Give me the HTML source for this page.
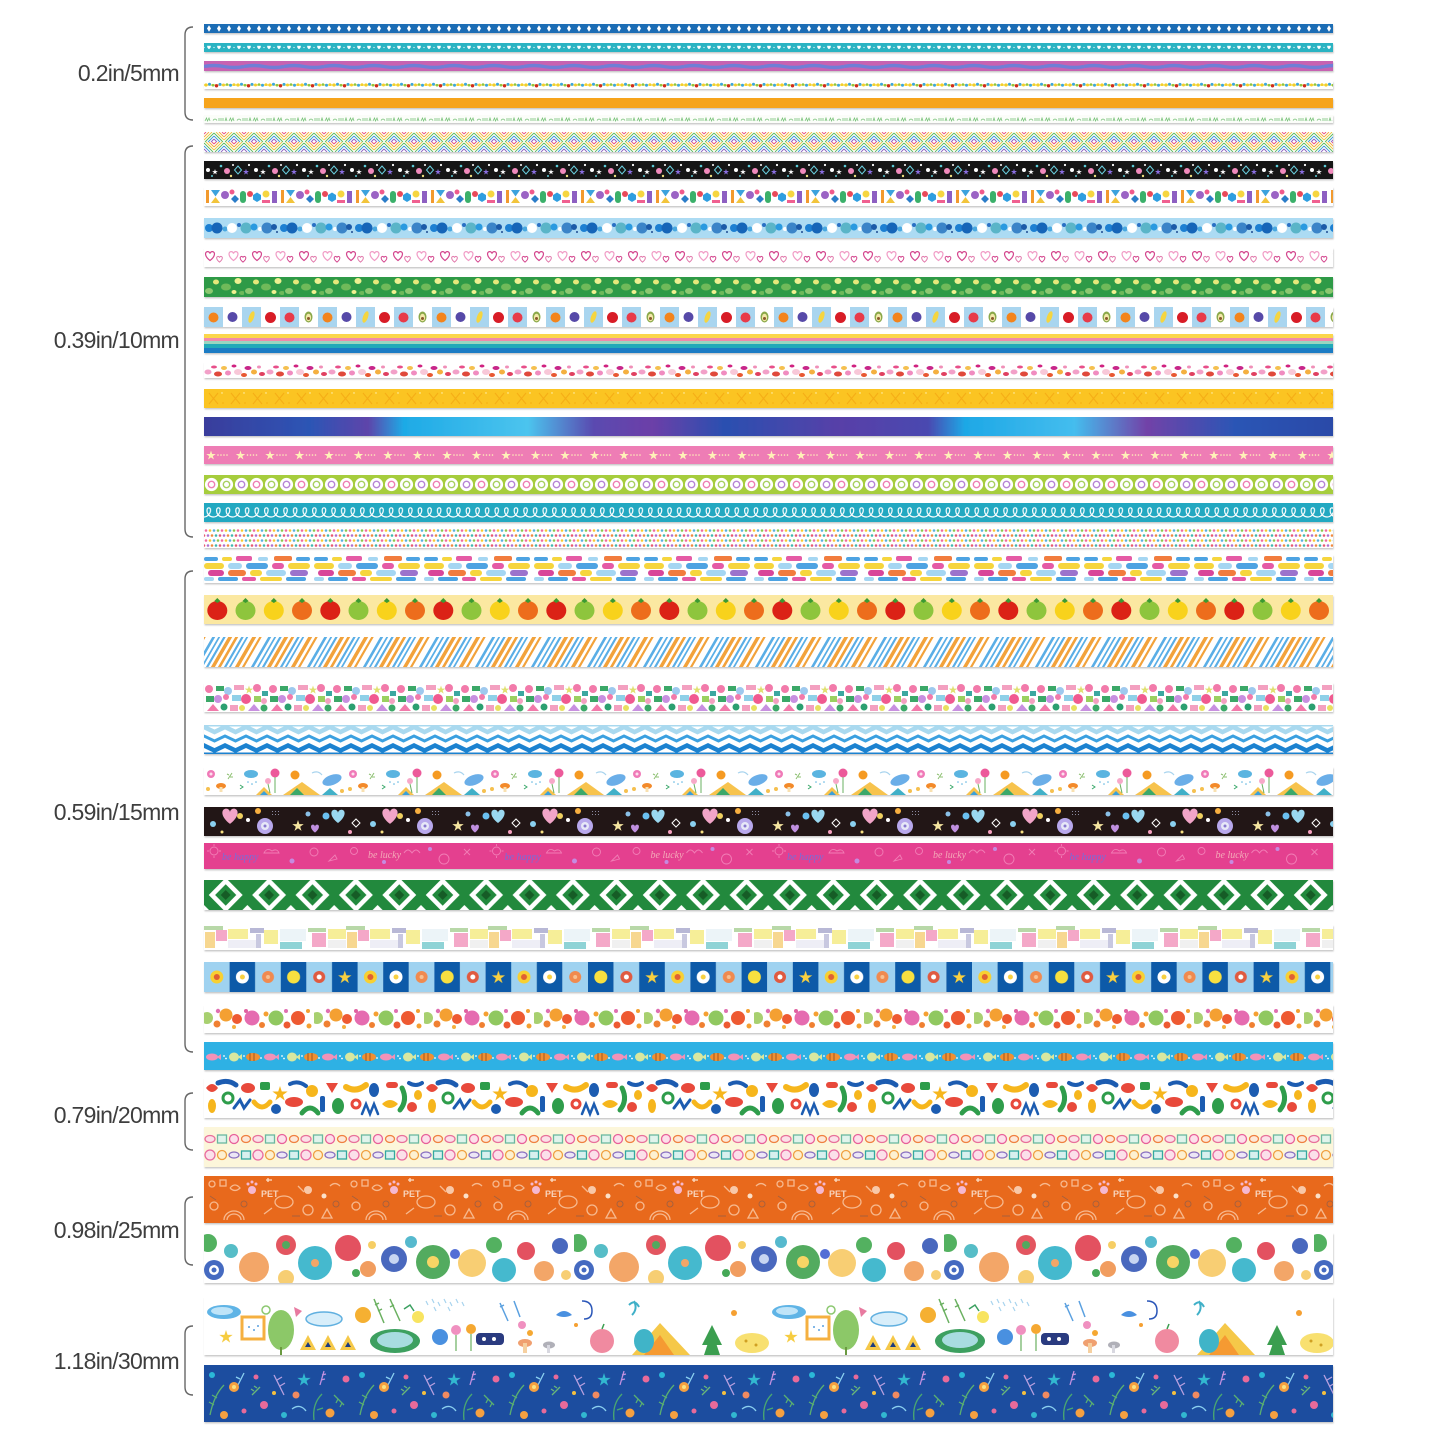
<!DOCTYPE html>
<html><head><meta charset="utf-8"><style>html,body{margin:0;padding:0;background:#fff;}svg{display:block}</style></head><body>
<svg width="1445" height="1445" viewBox="0 0 1445 1445" xmlns="http://www.w3.org/2000/svg">
<defs>
<path id="hrt" d="M0 3 C-4 0 -4 -3.2 -2 -3.6 C-1 -3.8 0 -3 0 -2 C0 -3 1 -3.8 2 -3.6 C4 -3.2 4 0 0 3Z"/>
<polygon id="st" points="0,-1 0.2245,-0.309 0.951,-0.309 0.363,0.118 0.588,0.809 0,0.382 -0.588,0.809 -0.363,0.118 -0.951,-0.309 -0.2245,-0.309"/>
<filter id="sh" x="-2%" y="-2%" width="104%" height="104%"><feDropShadow dx="0.6" dy="1.4" stdDeviation="0.8" flood-color="#000" flood-opacity="0.22"/></filter>

<pattern id="p1" patternUnits="userSpaceOnUse" x="204" y="24" width="10" height="9"><rect width="10" height="9" fill="#1b6db5"/><polygon points="5,1.3 7,4.5 5,7.7 3,4.5" fill="#fff"/></pattern>

<pattern id="p2" patternUnits="userSpaceOnUse" x="204" y="43" width="10" height="9"><rect width="10" height="9" fill="#2bb3c2"/><use href="#hrt" transform="translate(5,4.6) scale(0.55)" fill="#fff"/><circle cx="0" cy="4.5" r="0.6" fill="#fff"/><circle cx="10" cy="4.5" r="0.6" fill="#fff"/></pattern>

<pattern id="p3" patternUnits="userSpaceOnUse" x="204" y="61" width="40" height="10"><rect width="40" height="10" fill="#c762b1"/><path d="M0 5.5 Q10 3.5 20 5.5 T40 5.5" stroke="#6f7ed6" stroke-width="3.4" fill="none"/></pattern>

<pattern id="p4" patternUnits="userSpaceOnUse" x="204" y="81" width="32" height="8"><rect width="32" height="8" fill="#fff"/><rect y="3.3" width="32" height="1.4" fill="#f2dc5a"/>
<circle cx="2" cy="4" r="1.6" fill="#f3cf2b"/><circle cx="5.5" cy="3.2" r="1.5" fill="#3aa7dc"/><circle cx="9" cy="4.2" r="1.3" fill="#8cc63f"/><circle cx="12.5" cy="4.8" r="1.7" fill="#cf2a1f"/><circle cx="16" cy="3.4" r="1.5" fill="#3aa7dc"/><circle cx="19.5" cy="4" r="1.5" fill="#f3cf2b"/><circle cx="23" cy="3.5" r="1.3" fill="#8cc63f"/><circle cx="26.5" cy="4.3" r="1.5" fill="#3aa7dc"/><circle cx="30" cy="3.6" r="1.4" fill="#f3cf2b"/></pattern>

<pattern id="p6" patternUnits="userSpaceOnUse" x="204" y="115" width="24" height="8"><rect width="24" height="8" fill="#fbfdf9"/><g stroke="#78c27a" stroke-width="0.8" fill="none"><path d="M1 6 l1.5 -3 l1 3 l1.5 -3 l1 3"/><path d="M9 5.5 q2 -3 4 0"/><path d="M15 3 l0 3 M17 3 l0 3 M19 3 l0 3"/><path d="M21 6 l1 -3 l1 3"/></g></pattern>

<pattern id="p7" patternUnits="userSpaceOnUse" x="204" y="132" width="20" height="20"><rect width="20" height="20" fill="#fff"/><g stroke-width="0.9">
<line x1="0" y1="2" x2="2" y2="0" stroke="#e8507e"/><line x1="0" y1="5" x2="5" y2="0" stroke="#f3a53a"/><line x1="0" y1="8" x2="8" y2="0" stroke="#e8c83a"/><line x1="1" y1="10" x2="10" y2="1" stroke="#58b85a"/><line x1="4" y1="10" x2="10" y2="4" stroke="#3a9ad8"/><line x1="7" y1="10" x2="10" y2="7" stroke="#8e62c2"/>
<line x1="18" y1="0" x2="20" y2="2" stroke="#e8507e"/><line x1="15" y1="0" x2="20" y2="5" stroke="#f3a53a"/><line x1="12" y1="0" x2="20" y2="8" stroke="#e8c83a"/><line x1="10" y1="1" x2="19" y2="10" stroke="#58b85a"/><line x1="10" y1="4" x2="16" y2="10" stroke="#3a9ad8"/><line x1="10" y1="7" x2="13" y2="10" stroke="#8e62c2"/>
<line x1="8" y1="10" x2="10" y2="12" stroke="#e8507e"/><line x1="5" y1="10" x2="10" y2="15" stroke="#f3a53a"/><line x1="2" y1="10" x2="10" y2="18" stroke="#e8c83a"/><line x1="0" y1="11" x2="9" y2="20" stroke="#58b85a"/><line x1="0" y1="14" x2="6" y2="20" stroke="#3a9ad8"/><line x1="0" y1="17" x2="3" y2="20" stroke="#8e62c2"/>
<line x1="10" y1="12" x2="12" y2="10" stroke="#e8507e"/><line x1="10" y1="15" x2="15" y2="10" stroke="#f3a53a"/><line x1="10" y1="18" x2="18" y2="10" stroke="#e8c83a"/><line x1="11" y1="20" x2="20" y2="11" stroke="#58b85a"/><line x1="14" y1="20" x2="20" y2="14" stroke="#3a9ad8"/><line x1="17" y1="20" x2="20" y2="17" stroke="#8e62c2"/></g></pattern>

<pattern id="p8" patternUnits="userSpaceOnUse" x="204" y="161" width="48" height="18"><rect width="48" height="18" fill="#151515"/><circle cx="4" cy="9" r="2" fill="#fff"/><use href="#st" transform="translate(11,11) scale(3)" fill="#fff"/><circle cx="17" cy="5" r="1.3" fill="#5ccad6"/><circle cx="23" cy="10" r="3" fill="#f18bbd"/><circle cx="29" cy="4" r="1" fill="#fff"/><polygon points="34,5 37.5,9 34,13 30.5,9" fill="none" stroke="#6ad0e0" stroke-width="1"/><use href="#st" transform="translate(42,11) scale(3.2)" fill="#8a6ee0"/><circle cx="45" cy="4" r="1.1" fill="#fff"/><circle cx="27" cy="15" r="1.2" fill="#f0e080"/><circle cx="8" cy="15" r="1" fill="#5ccad6"/></pattern>

<pattern id="p9" patternUnits="userSpaceOnUse" x="204" y="187" width="75" height="19"><rect width="75" height="19" fill="#fff"/>
<rect x="2" y="3" width="3" height="13" fill="#f29a2e"/><polygon points="7,3 16,3 11.5,9.5" fill="#3ba2dd"/><polygon points="7,16 16,16 11.5,10" fill="#f2c43a"/><circle cx="21" cy="8" r="4" fill="#9b63c4"/><circle cx="28" cy="5" r="2.5" fill="#ef5a8c"/><polygon points="31,8 35,12 31,16 27,12" fill="#2a7cc8"/><rect x="36" y="4" width="6" height="12" rx="3" fill="#3ab06a"/><circle cx="46" cy="7" r="3" fill="#e84a5a"/><polygon points="53,5.5 57,8 57,12.5 53,15 49,12.5 49,8" fill="#2f9ee0"/><rect x="58" y="13" width="8" height="3" fill="#f06090"/><circle cx="62" cy="7" r="3.5" fill="#f6d640"/><rect x="68" y="4" width="5" height="12" fill="#8d5fc2"/></pattern>

<pattern id="p10" patternUnits="userSpaceOnUse" x="204" y="218" width="75" height="20"><rect width="75" height="20" fill="#acdbf3"/>
<circle cx="5" cy="10" r="4" fill="#1a7fd2"/><circle cx="13" cy="10" r="5.5" fill="#1565b8"/><circle cx="21" cy="11" r="2.5" fill="#4aa8e0"/><circle cx="28" cy="10" r="5" fill="#fff"/><circle cx="35" cy="7" r="2" fill="#2a70c4"/><circle cx="42" cy="10" r="5.5" fill="#5ab5c8"/><circle cx="50" cy="9" r="3.5" fill="#2a9ae0"/><circle cx="56" cy="11" r="2" fill="#fff"/><circle cx="63" cy="10" r="5.5" fill="#3a84c8"/><circle cx="70" cy="9" r="3" fill="#1a5aa8"/><circle cx="73" cy="14" r="1" fill="#1a4a90"/></pattern>

<pattern id="p11" patternUnits="userSpaceOnUse" x="204" y="248" width="47" height="19"><rect width="47" height="19" fill="#fff"/>
<use href="#hrt" transform="translate(6,8.5) scale(1.35)" fill="none" stroke="#d4468e" stroke-width="0.9"/><use href="#hrt" transform="translate(15.5,11.5) scale(0.85)" fill="none" stroke="#e27aac" stroke-width="1.2"/><use href="#hrt" transform="translate(29.5,8.5) scale(1.35)" fill="none" stroke="#f19cc6" stroke-width="0.9"/><use href="#hrt" transform="translate(39,11.5) scale(0.85)" fill="none" stroke="#d4468e" stroke-width="1.2"/></pattern>

<pattern id="p12" patternUnits="userSpaceOnUse" x="204" y="277" width="40" height="20"><rect width="40" height="20" fill="#2e9a47"/>
<ellipse cx="5" cy="14" rx="4" ry="3" fill="#8cc870"/><ellipse cx="12" cy="5" rx="3" ry="2.5" fill="#e6e87a"/><ellipse cx="22" cy="10" rx="5" ry="3.5" fill="#6fba5a"/><ellipse cx="30" cy="15" rx="2.5" ry="2" fill="#f0f090"/><ellipse cx="34" cy="4" rx="3.5" ry="3" fill="#eef090"/><ellipse cx="38" cy="16" rx="3" ry="2" fill="#6cb85a"/></pattern>

<pattern id="p13" patternUnits="userSpaceOnUse" x="204" y="307" width="114" height="20"><rect width="114" height="20" fill="#fff"/>
<rect x="0" width="19" height="20" fill="#a9d5ef"/><rect x="38" width="19" height="20" fill="#a9d5ef"/><rect x="76" width="19" height="20" fill="#a9d5ef"/>
<circle cx="9.5" cy="10.5" r="5" fill="#f3841e"/><circle cx="28.5" cy="10" r="5" fill="#5648a8"/><ellipse cx="47.5" cy="10" rx="2.5" ry="6" fill="#f5d540" transform="rotate(20 47.5 10)"/><circle cx="66.5" cy="10.5" r="5.5" fill="#d81e28"/><circle cx="85.5" cy="10.5" r="5" fill="#e83a4a"/><ellipse cx="104.5" cy="10" rx="4" ry="5.5" fill="#8aa848"/><ellipse cx="104.5" cy="10.5" rx="2.6" ry="3.8" fill="#f2e8a8"/><circle cx="104.5" cy="11.5" r="1.5" fill="#8a5a2a"/></pattern>

<pattern id="p15" patternUnits="userSpaceOnUse" x="204" y="362" width="62" height="16"><rect width="62" height="16" fill="#fff"/>
<ellipse cx="4" cy="10" rx="3.5" ry="2.5" fill="#f2a0c8"/><ellipse cx="10" cy="5" rx="3" ry="1.5" fill="#e8508a"/><ellipse cx="14" cy="12" rx="4" ry="2.5" fill="#e0483a"/><ellipse cx="20" cy="6" rx="3" ry="2" fill="#f5c050"/><ellipse cx="24" cy="11" rx="3" ry="2.5" fill="#f08cc0"/><ellipse cx="30" cy="4" rx="2.5" ry="1.5" fill="#d02080"/><ellipse cx="34" cy="10" rx="4" ry="3" fill="#f8c8d8"/><ellipse cx="40" cy="13" rx="3" ry="2" fill="#e85830"/><ellipse cx="44" cy="6" rx="3.5" ry="2" fill="#c8288a"/><ellipse cx="50" cy="10" rx="3" ry="2.5" fill="#f4b040"/><ellipse cx="55" cy="5" rx="2" ry="1.5" fill="#f090b8"/><ellipse cx="58" cy="12" rx="3" ry="2" fill="#e04060"/></pattern>

<pattern id="p16" patternUnits="userSpaceOnUse" x="204" y="389" width="22" height="19"><rect width="22" height="19" fill="#fbc420"/><path d="M5 4 L14 15 M14 4 L5 15" stroke="#f2a414" stroke-width="1.1" opacity="0.7"/><circle cx="18" cy="4" r="0.7" fill="#fff6c0"/><circle cx="19" cy="14" r="0.6" fill="#f0a010"/></pattern>

<linearGradient id="g17" gradientUnits="userSpaceOnUse" x1="204" y1="0" x2="1333" y2="0">
<stop offset="0" stop-color="#3a3d9c"/><stop offset="0.094" stop-color="#2c55b5"/><stop offset="0.145" stop-color="#5e44aa"/><stop offset="0.177" stop-color="#1eaae6"/><stop offset="0.287" stop-color="#4cc4ee"/><stop offset="0.345" stop-color="#5a4ab0"/><stop offset="0.397" stop-color="#6c3fa8"/><stop offset="0.461" stop-color="#2a50b0"/><stop offset="0.564" stop-color="#5840a8"/><stop offset="0.641" stop-color="#4a48b0"/><stop offset="0.674" stop-color="#1ea8e6"/><stop offset="0.771" stop-color="#44bdee"/><stop offset="0.835" stop-color="#7242a8"/><stop offset="0.912" stop-color="#2c55b5"/><stop offset="1" stop-color="#2a4aa8"/></linearGradient>

<pattern id="p18" patternUnits="userSpaceOnUse" x="204" y="446" width="29.5" height="18"><rect width="29.5" height="18" fill="#ee7db5"/><use href="#st" transform="translate(7,9.5) scale(5)" fill="#fff2b8"/><circle cx="14" cy="9" r="0.8" fill="#fff2b8"/><circle cx="17" cy="9" r="0.8" fill="#fff2b8"/><circle cx="20" cy="9" r="0.8" fill="#fff2b8"/><circle cx="23" cy="9" r="0.8" fill="#fff2b8"/></pattern>

<pattern id="p19" patternUnits="userSpaceOnUse" x="204" y="475" width="45" height="19"><rect width="45" height="19" fill="#a6cd3e"/>
<circle cx="7.5" cy="9.5" r="6.6" fill="#fff"/><circle cx="22.5" cy="9.5" r="6.6" fill="#fff"/><circle cx="37.5" cy="9.5" r="6.6" fill="#fff"/>
<circle cx="7.5" cy="9.5" r="3.2" fill="none" stroke="#ee7eb4" stroke-width="1.4"/><circle cx="22.5" cy="9.5" r="3.2" fill="none" stroke="#a8d060" stroke-width="1.4"/><circle cx="37.5" cy="9.5" r="3.2" fill="none" stroke="#b685d6" stroke-width="1.4"/></pattern>

<pattern id="p20" patternUnits="userSpaceOnUse" x="204" y="503" width="9.6" height="19"><rect width="9.6" height="19" fill="#21a8c1"/><path d="M0 14 C3 14 6.5 11 6.5 7 C6.5 4 3 4 3 7.5 C3 11.5 6 14 9.6 14" stroke="#fff" stroke-width="1.2" fill="none"/></pattern>

<pattern id="p21" patternUnits="userSpaceOnUse" x="204" y="528" width="16" height="10"><rect width="16" height="10" fill="#fff"/>
<circle cx="2" cy="2.5" r="1.3" fill="#f06aa0"/><circle cx="6" cy="2.5" r="1.3" fill="#f8c830"/><circle cx="10" cy="2.5" r="1.3" fill="#5ab0e0"/><circle cx="14" cy="2.5" r="1.3" fill="#8cc850"/><circle cx="4" cy="7.5" r="1.3" fill="#b070d0"/><circle cx="8" cy="7.5" r="1.3" fill="#f08a40"/><circle cx="12" cy="7.5" r="1.3" fill="#40b8b0"/><circle cx="0" cy="7.5" r="1.3" fill="#e85a70"/><circle cx="16" cy="7.5" r="1.3" fill="#e85a70"/></pattern>

<pattern id="p22" patternUnits="userSpaceOnUse" x="204" y="555" width="110" height="28"><rect width="110" height="28" fill="#fff"/><g>
<rect x="0" y="2" width="14" height="4" rx="2" fill="#4da3e2"/><rect x="18" y="2" width="10" height="4" rx="2" fill="#f6d53c"/><rect x="32" y="1" width="16" height="5" rx="2" fill="#e55aa5"/><rect x="54" y="2" width="10" height="4" rx="2" fill="#a5d6f2"/><rect x="70" y="1" width="18" height="5" rx="2" fill="#f27c3c"/><rect x="92" y="2" width="14" height="4" rx="2" fill="#4da3e2"/>
<rect x="0" y="8" width="20" height="6" rx="3" fill="#f6d53c"/><rect x="24" y="8" width="14" height="6" rx="3" fill="#a5d6f2"/><rect x="42" y="8" width="22" height="6" rx="3" fill="#4da3e2"/><rect x="68" y="8" width="12" height="6" rx="3" fill="#e55aa5"/><rect x="84" y="8" width="22" height="6" rx="3" fill="#f6d53c"/>
<rect x="4" y="15" width="16" height="6" rx="3" fill="#d8479a"/><rect x="24" y="15" width="18" height="6" rx="3" fill="#f27c3c"/><rect x="46" y="15" width="12" height="6" rx="3" fill="#f6d53c"/><rect x="62" y="15" width="20" height="6" rx="3" fill="#a5d6f2"/><rect x="86" y="15" width="18" height="6" rx="3" fill="#9b72cc"/>
<rect x="0" y="22" width="10" height="4" rx="2" fill="#a5d6f2"/><rect x="14" y="22" width="20" height="4" rx="2" fill="#4da3e2"/><rect x="38" y="22" width="14" height="4" rx="2" fill="#e55aa5"/><rect x="56" y="22" width="22" height="4" rx="2" fill="#f6d53c"/><rect x="82" y="22" width="20" height="4" rx="2" fill="#4da3e2"/></g></pattern>

<pattern id="p23" patternUnits="userSpaceOnUse" x="204" y="595" width="113" height="29"><rect width="113" height="29" fill="#fbe8a1"/>
<ellipse cx="13.3" cy="15.5" rx="10" ry="9.5" fill="#db2118"/><ellipse cx="41.5" cy="15.5" rx="10" ry="9.5" fill="#8ec53e"/><ellipse cx="69.8" cy="15.5" rx="10" ry="9.5" fill="#f8d21f"/><ellipse cx="98" cy="15.5" rx="10" ry="9.5" fill="#ed6d1b"/>
<g fill="#3a9a30"><polygon points="10.3,6 13.3,3 16.3,6 13.3,8"/><polygon points="38.5,6 41.5,3 44.5,6 41.5,8"/><polygon points="66.8,6 69.8,3 72.8,6 69.8,8"/><polygon points="95,6 98,3 101,6 98,8"/></g></pattern>

<pattern id="p24" patternUnits="userSpaceOnUse" x="204" y="637" width="56" height="30" patternTransform="skewX(-30)"><rect width="56" height="30" fill="#fff"/>
<rect x="0" width="4" height="30" fill="#f2a23a"/><rect x="7" width="3" height="30" fill="#f2a23a"/><rect x="24" width="4" height="30" fill="#f2a23a"/><rect x="31" width="2.5" height="30" fill="#f2a23a"/>
<rect x="13" width="2.5" height="30" fill="#5aaee6"/><rect x="18" width="2" height="30" fill="#5aaee6"/><rect x="40" width="3" height="30" fill="#5aaee6"/><rect x="46" width="2" height="30" fill="#5aaee6"/><rect x="51" width="2.5" height="30" fill="#5aaee6"/></pattern>

<pattern id="p25" patternUnits="userSpaceOnUse" x="204" y="683" width="64" height="29"><rect width="64" height="29" fill="#fff"/>
<circle cx="5" cy="6" r="4" fill="#f27aaa"/><rect x="12" y="3" width="8" height="5" fill="#3aa868"/><circle cx="24" cy="8" r="4" fill="#9ec9ee"/><rect x="30" y="2" width="10" height="5" fill="#f3a0c0"/><use href="#st" transform="translate(45,7) scale(4.5)" fill="#e0e070"/><circle cx="53" cy="5" r="4" fill="#f27aaa"/><rect x="58" y="8" width="6" height="5" fill="#3aa8a0"/>
<rect x="2" y="13" width="8" height="6" fill="#3aa868"/><circle cx="14" cy="16" r="4" fill="#c890e0"/><circle cx="22" cy="14" r="3" fill="#f27aaa"/><rect x="28" y="12" width="9" height="6" fill="#8fd0e8"/><circle cx="42" cy="16" r="5" fill="#f05a90"/><rect x="50" y="13" width="7" height="6" fill="#9ad060"/><circle cx="60" cy="18" r="3" fill="#f3a0c0"/>
<polygon points="3,28 9,21 15,28" fill="#f27aaa"/><circle cx="20" cy="24" r="3.5" fill="#2aa070"/><rect x="26" y="22" width="8" height="6" fill="#f3a0c0"/><circle cx="38" cy="25" r="3" fill="#e8e060"/><polygon points="44,28 50,21 56,28" fill="#c890e0"/><circle cx="60" cy="25" r="3.5" fill="#3aa868"/></pattern>

<pattern id="p26" patternUnits="userSpaceOnUse" x="204" y="725" width="21" height="29"><rect width="21" height="29" fill="#fff"/><rect width="21" height="1.5" fill="#a9d9ef"/>
<polyline points="-1,1.5 10.5,7 22,1.5" fill="none" stroke="#a9d9ef" stroke-width="4.5"/><polyline points="-1,10.5 10.5,16 22,10.5" fill="none" stroke="#3aa0e0" stroke-width="3"/><polyline points="-1,20 10.5,25.5 22,20" fill="none" stroke="#1b82d0" stroke-width="4.5"/><rect y="27.5" width="21" height="1.5" fill="#1b82d0"/></pattern>

<pattern id="p27" patternUnits="userSpaceOnUse" x="204" y="767" width="142" height="28"><rect width="142" height="28" fill="#fff"/>
<circle cx="7" cy="7" r="4" fill="#f07ab8"/><circle cx="7" cy="7" r="1.5" fill="#fde0ee"/><ellipse cx="17" cy="19" rx="5" ry="3" fill="#f38a2a"/><rect x="15.5" y="20" width="3" height="5" fill="#f8e0b0"/><path d="M24 12 l4 -6 M26 10 l3 0 M25 8 l-2 -1" stroke="#8cc070" stroke-width="1" fill="none"/><circle cx="4" cy="22" r="2" fill="#f5c050"/>
<ellipse cx="47" cy="7" rx="7" ry="4" fill="#5ab4e0"/><circle cx="44" cy="15" r="0.8" fill="#5ab4e0"/><circle cx="48" cy="17" r="0.8" fill="#5ab4e0"/><circle cx="52" cy="15" r="0.8" fill="#5ab4e0"/><path d="M36 22 l3 -2 l-3 -2" stroke="#3aa86a" fill="none"/><polygon points="52,28 60,20 68,28" fill="#f7c34e"/><polygon points="56,28 60,24 64,28" fill="#3aa0d8"/>
<circle cx="71" cy="6" r="4.5" fill="#ec5a9a"/><circle cx="64" cy="14" r="3" fill="#f7a8c8"/><path d="M71 10 L71 26 M64 17 L66 26" stroke="#6ab060" stroke-width="1"/>
<circle cx="91" cy="8" r="4.5" fill="#f59a20"/><polygon points="79,28 98,15 116,28" fill="#f7c34e"/><polygon points="86,28 93,21 100,28" fill="#3aa86a"/>
<ellipse cx="128" cy="13" rx="10" ry="5" fill="#6aaee8" transform="rotate(-20 128 13)"/><path d="M108 6 q6 -3 10 2" stroke="#a8d4ee" fill="none" stroke-width="1.2"/><circle cx="138" cy="24" r="2" fill="#f5c050"/><polygon points="118,28 126,21 134,28" fill="#40b0c8"/></pattern>

<pattern id="p28" patternUnits="userSpaceOnUse" x="204" y="807" width="160" height="29"><rect width="160" height="29" fill="#231815"/>
<use href="#hrt" transform="translate(26,10) scale(2.3)" fill="#f2a4c8"/><circle cx="9" cy="17" r="3" fill="#8ad0f0"/><circle cx="36" cy="9" r="3" fill="#f0d060"/><circle cx="44" cy="13" r="2" fill="#fff"/><circle cx="54" cy="4" r="3" fill="#f8b040"/>
<circle cx="61" cy="19" r="8" fill="#b8a8ec"/><circle cx="61" cy="19" r="4" fill="#e8e8f8"/><circle cx="61" cy="19" r="1.5" fill="#8a78d0"/>
<g fill="#8a8aa0"><rect x="68" y="4" width="1" height="1"/><rect x="71" y="4" width="1" height="1"/><rect x="74" y="4" width="1" height="1"/><rect x="68" y="7" width="1" height="1"/><rect x="71" y="7" width="1" height="1"/><rect x="74" y="7" width="1" height="1"/></g>
<use href="#st" transform="translate(94,19) scale(6)" fill="#f6e6a0"/><circle cx="104" cy="7" r="2.5" fill="#8ac0e8"/><use href="#hrt" transform="translate(111,22) scale(1.2)" fill="#c090e0"/><circle cx="122" cy="9" r="3.5" fill="#6ac0f0"/>
<use href="#hrt" transform="translate(134,10) scale(2)" fill="#9ad8f0"/><polygon points="152,12 156,16 152,20 148,16" fill="none" stroke="#fff" stroke-width="1"/><circle cx="146" cy="25" r="2" fill="#f5a0c0"/><circle cx="18" cy="25" r="1.5" fill="#f8e080"/></pattern>

<pattern id="p29" patternUnits="userSpaceOnUse" x="204" y="843" width="282.5" height="26"><rect width="282.5" height="26" fill="#e4408f"/>
<g stroke="#f27db6" stroke-width="0.9" fill="none"><circle cx="10" cy="8" r="4"/><path d="M10 1 v2 M10 13 v2 M3 8 h2 M15 8 h2"/><path d="M60 10 q3 -6 8 -2 q5 -3 7 2 z"/><circle cx="110" cy="9" r="4"/><path d="M125 18 l6 -6 l2 4 z"/><circle cx="150" cy="8" r="3.5"/><path d="M200 10 q4 -6 8 0 q4 -6 8 0"/><circle cx="240" cy="16" r="5"/><path d="M260 6 l6 6 M266 6 l-6 6"/></g>
<circle cx="88" cy="18" r="2.5" fill="#c68ae0"/><circle cx="180" cy="19" r="2" fill="#c68ae0"/><circle cx="226" cy="6" r="2" fill="#c68ae0"/>
<text x="18" y="17" font-family="Liberation Serif, serif" font-style="italic" font-size="10" fill="#7a6ad8">be happy</text>
<text x="164" y="15" font-family="Liberation Serif, serif" font-style="italic" font-size="10" fill="#f4a9b8">be lucky</text></pattern>

<pattern id="p30" patternUnits="userSpaceOnUse" x="204" y="880" width="43.4" height="30"><rect width="43.4" height="30" fill="#23893e"/>
<polygon points="21.7,1 35.5,15 21.7,29 7.9,15" fill="#23893e" stroke="#fff" stroke-width="4.5"/><polygon points="21.7,10 26.7,15 21.7,20 16.7,15" fill="#155c27"/><polygon points="-5,30 0,25 5,30" fill="#fff"/><polygon points="38.4,30 43.4,25 48.4,30" fill="#fff"/></pattern>

<pattern id="p31" patternUnits="userSpaceOnUse" x="204" y="925" width="142" height="25"><rect width="142" height="25" fill="#fff"/>
<rect x="0" y="1" width="19" height="4" fill="#b8d8a8"/><rect x="1" y="7" width="10" height="16" fill="#f7d790"/><rect x="12" y="5" width="11" height="11" fill="#f4a8c8"/><rect x="24" y="4" width="20" height="10" fill="#f6ee98"/><rect x="24" y="15" width="28" height="8" fill="#eeeef6"/><rect x="46" y="3" width="14" height="5" fill="#b8b8d6"/><rect x="52" y="9" width="5" height="14" fill="#c8c8e0"/><rect x="60" y="5" width="14" height="14" fill="#f6ee98"/><rect x="76" y="4" width="26" height="12" fill="#ecf4f8"/><rect x="76" y="17" width="22" height="7" fill="#8fd3d6"/><rect x="104" y="3" width="18" height="4" fill="#b8d8a8"/><rect x="108" y="8" width="14" height="14" fill="#f4a8c8"/><rect x="124" y="4" width="18" height="10" fill="#f6ee98"/><rect x="124" y="15" width="18" height="8" fill="#f0f0f0"/></pattern>

<pattern id="p32" patternUnits="userSpaceOnUse" x="204" y="962" width="153.6" height="30">
<rect x="0" width="25.6" height="30" fill="#9fd2f0"/><rect x="25.6" width="25.6" height="30" fill="#0c5aa8"/><rect x="51.2" width="25.6" height="30" fill="#9fd2f0"/><rect x="76.8" width="25.6" height="30" fill="#0c5aa8"/><rect x="102.4" width="25.6" height="30" fill="#9fd2f0"/><rect x="128" width="25.6" height="30" fill="#0c5aa8"/>
<circle cx="12.8" cy="15" r="6.5" fill="#f8d030"/><circle cx="12.8" cy="15" r="3" fill="#e06030"/><circle cx="38.4" cy="15" r="6.5" fill="#fff"/><circle cx="38.4" cy="15" r="2.5" fill="#f8d040"/><circle cx="64" cy="15" r="6" fill="#f08a50"/><circle cx="64" cy="15" r="2" fill="#f8c090"/><circle cx="89.6" cy="15" r="6.5" fill="#f8e040"/><circle cx="115.2" cy="15" r="6" fill="#e05a40"/><circle cx="115.2" cy="15" r="2.5" fill="#fff"/><use href="#st" transform="translate(140.8,15.5) scale(7)" fill="#f8d040"/></pattern>

<pattern id="p33" patternUnits="userSpaceOnUse" x="204" y="1005" width="110" height="28"><rect width="110" height="28" fill="#fff"/>
<circle cx="3" cy="13" r="6" fill="#a8d070"/><circle cx="14" cy="6" r="2.2" fill="#e070b0"/><circle cx="13" cy="19" r="3.5" fill="#f08030"/><circle cx="22" cy="10" r="6.5" fill="#f4a030"/><circle cx="30" cy="22" r="2" fill="#f5b040"/><circle cx="33" cy="14" r="5" fill="#ee5a32"/><circle cx="42" cy="6" r="2" fill="#e060a0"/><circle cx="48" cy="13" r="7.5" fill="#e56cb0"/><circle cx="58" cy="20" r="3" fill="#f08030"/><circle cx="62" cy="9" r="2.5" fill="#f4a030"/><circle cx="72" cy="13" r="7.5" fill="#90c860"/><circle cx="82" cy="6" r="2" fill="#e070b0"/><circle cx="83" cy="20" r="3.5" fill="#ee5a32"/><circle cx="94" cy="13" r="7" fill="#ee5a32"/><circle cx="104" cy="6" r="2" fill="#f4a030"/><circle cx="105" cy="21" r="2.5" fill="#f4a030"/></pattern>

<pattern id="p34" patternUnits="userSpaceOnUse" x="204" y="1042" width="58" height="28"><rect width="58" height="28" fill="#2db1e4"/>
<ellipse cx="8" cy="15" rx="6" ry="3.5" fill="#f292b8"/><polygon points="13,15 17,12 17,18" fill="#f292b8"/><circle cx="20" cy="14" r="0.9" fill="#fff"/><circle cx="22" cy="16.5" r="0.9" fill="#fff"/>
<ellipse cx="30" cy="15" rx="5" ry="4.5" fill="#d8e8a0"/><polygon points="34,15 38,12 38,18" fill="#d8e8a0"/><circle cx="40" cy="14" r="0.9" fill="#fff"/>
<ellipse cx="49" cy="15" rx="7" ry="4" fill="#f09030"/><path d="M46 11 v8 M50 11 v8" stroke="#8a4a20" stroke-width="0.8"/><circle cx="57" cy="16" r="0.9" fill="#fff"/></pattern>

<pattern id="p35" patternUnits="userSpaceOnUse" x="204" y="1078" width="220" height="40"><rect width="220" height="40" fill="#fff"/>
<g stroke-linecap="round">
<path d="M2 10 q6 -8 12 0 q-6 8 -12 0z" fill="#e8493a"/><ellipse cx="8" cy="28" rx="4" ry="7" fill="#f6b61f"/><path d="M14 5 q10 -4 18 2" stroke="#1d5cb1" stroke-width="5" fill="none"/><circle cx="24" cy="20" r="5" fill="none" stroke="#2f9d4b" stroke-width="3"/><path d="M30 30 l6 -8 l4 8 l6 -8" stroke="#1d5cb1" stroke-width="3" fill="none"/>
<ellipse cx="44" cy="10" rx="7" ry="5" fill="#e8493a"/><path d="M50 24 q8 10 16 0" stroke="#f6b61f" stroke-width="5" fill="none"/><rect x="56" y="4" width="10" height="8" rx="2" fill="#2f9d4b"/><circle cx="72" cy="31" r="5" fill="#1d5cb1"/><use href="#st" transform="translate(76,16) scale(8)" fill="#f6b61f"/>
<ellipse cx="90" cy="24" rx="9" ry="5" fill="#e8493a"/><path d="M86 6 q8 -4 16 2" stroke="#1d5cb1" stroke-width="4" fill="none"/><path d="M98 35 q8 -10 16 0" stroke="#2f9d4b" stroke-width="5" fill="none"/><circle cx="108" cy="13" r="6" fill="#f6b61f"/><rect x="116" y="18" width="5" height="16" rx="2" fill="#1d5cb1"/>
<path d="M122 5 l6 10 l6 -10z" fill="#e8493a"/><ellipse cx="134" cy="28" rx="6" ry="8" fill="#2f9d4b"/><path d="M142 9 q10 6 20 -2" stroke="#f6b61f" stroke-width="6" fill="none"/><circle cx="152" cy="26" r="4" fill="none" stroke="#e8493a" stroke-width="3"/><path d="M158 36 l4 -10 l4 10 l4 -10 l4 10" stroke="#1d5cb1" stroke-width="2.5" fill="none"/>
<ellipse cx="170" cy="12" rx="5" ry="7" fill="#1d5cb1"/><path d="M178 26 q8 -8 16 0 q-8 8 -16 0z" fill="#f6b61f"/><rect x="182" y="4" width="12" height="6" rx="3" fill="#e8493a"/><path d="M198 10 q6 12 -2 22" stroke="#2f9d4b" stroke-width="5" fill="none"/><circle cx="208" cy="29" r="5" fill="#e8493a"/><path d="M205 5 q7 4 13 0" stroke="#1d5cb1" stroke-width="4" fill="none"/><ellipse cx="214" cy="17" rx="4" ry="5" fill="#f6b61f"/></g></pattern>

<pattern id="p36" patternUnits="userSpaceOnUse" x="204" y="1127" width="48" height="40"><rect width="48" height="40" fill="#fcf6da"/>
<g stroke-width="1.3"><ellipse cx="6" cy="12" rx="5" ry="3.5" stroke="#e8709a" fill="#fbe0e8"/><rect x="13.5" y="8" width="9" height="8" stroke="#6ab8a0" fill="#e0f4ec"/><circle cx="30" cy="12" r="4.5" stroke="#e8609a" fill="#fde0ea"/><ellipse cx="42" cy="12" rx="4.5" ry="3.5" stroke="#f08040" fill="#fde8d8"/>
<circle cx="6" cy="28" r="5" stroke="#e86aa0" fill="#fbe0ea"/><circle cx="18" cy="28" r="4.5" stroke="#f0a040" fill="#fdf0d0"/><ellipse cx="30" cy="28" rx="5" ry="3" stroke="#8a70c0" fill="#ece6f6"/><rect x="37.5" y="24" width="9" height="8" stroke="#30a8a0" fill="#d8f0ee"/></g></pattern>

<pattern id="p37" patternUnits="userSpaceOnUse" x="204" y="1176" width="142" height="47"><rect width="142" height="47" fill="#e8691e"/>
<g stroke="#f7b98e" stroke-width="1.3" fill="none"><circle cx="8" cy="8" r="3"/><rect x="16" y="4" width="6" height="6"/><path d="M26 12 q5 -6 10 0 q-5 5 -10 0"/><path d="M20 44 a10 9 0 0 1 20 0 M23 44 a7 6 0 0 1 14 0"/><ellipse cx="80" cy="26" rx="9" ry="6"/><path d="M60 38 l8 -6 M94 10 l6 6"/><circle cx="104" cy="34" r="5"/><path d="M118 42 l5 -9 l5 9z"/><circle cx="10" cy="30" r="4"/><path d="M126 10 q5 -5 10 0"/></g>
<g stroke="#a8603a" stroke-width="1" fill="none"><circle cx="40" cy="28" r="3"/><path d="M6 20 l6 4 M88 40 l8 0"/><circle cx="132" cy="28" r="3"/></g>
<circle cx="48" cy="14" r="4" fill="#f6b8d0"/><circle cx="44" cy="8" r="1.5" fill="#f6b8d0"/><circle cx="48" cy="6" r="1.5" fill="#f6b8d0"/><circle cx="52" cy="8" r="1.5" fill="#f6b8d0"/>
<text x="57" y="21" font-family="Liberation Sans, sans-serif" font-weight="bold" font-size="9" fill="#f8d4bc">PET</text>
<circle cx="104" cy="14" r="4" fill="#f9c8a8"/><circle cx="120" cy="20" r="2.5" fill="#fce0c8"/><path d="M62 4 l6 0 M64 2 l0 4" stroke="#fce0c8" stroke-width="1.3"/></pattern>

<pattern id="p38" patternUnits="userSpaceOnUse" x="204" y="1233" width="370" height="50"><rect width="370" height="50" fill="#fff"/>
<g opacity="0.88"><circle cx="4" cy="10" r="9" fill="#3aa64a"/><circle cx="27" cy="18" r="7" fill="#40b4c0"/><circle cx="10" cy="37" r="10" fill="#2a56b8"/><circle cx="10" cy="37" r="5" fill="#fff"/><circle cx="10" cy="37" r="2.5" fill="#2a56b8"/><circle cx="50" cy="34" r="15" fill="#f29a52"/><circle cx="82" cy="45" r="8" fill="#f6c860"/><circle cx="82" cy="12" r="10" fill="#e0404a"/><circle cx="82" cy="12" r="4" fill="#3a9c48"/><circle cx="111" cy="30" r="17" fill="#2ab0c8"/><circle cx="111" cy="30" r="4" fill="#f29a52"/><circle cx="144" cy="15" r="13" fill="#e0394a"/><circle cx="152" cy="40" r="4" fill="#2a9c40"/><circle cx="164" cy="36" r="8" fill="#f09048"/><circle cx="168" cy="12" r="4" fill="#f5c850"/><circle cx="190" cy="26" r="13" fill="#2f52b5"/><circle cx="190" cy="26" r="5" fill="#c0d0f0"/><circle cx="207" cy="9" r="6" fill="#40b0c8"/><circle cx="229" cy="29" r="17" fill="#3aa048"/><circle cx="229" cy="29" r="6" fill="#f6d050"/><circle cx="251" cy="21" r="5" fill="#3a5ad0"/><circle cx="268" cy="30" r="14" fill="#f8c860"/><circle cx="290" cy="12" r="8" fill="#3aa64a"/><circle cx="300" cy="37" r="12" fill="#2ab0c8"/><circle cx="322" cy="18" r="9" fill="#e0394a"/><circle cx="340" cy="38" r="10" fill="#f29a52"/><circle cx="356" cy="13" r="8" fill="#2f52b5"/><circle cx="362" cy="42" r="5" fill="#f6c860"/></g></pattern>

<pattern id="p39" patternUnits="userSpaceOnUse" x="204" y="1297" width="565" height="58"><rect width="565" height="58" fill="#fff"/>
<ellipse cx="20" cy="15" rx="17" ry="7" fill="#5fb4e6"/><ellipse cx="18" cy="14" rx="11" ry="4" fill="#bfe4f8"/><circle cx="62" cy="13" r="4" fill="none" stroke="#8cc870" stroke-width="1.5"/><use href="#st" transform="translate(22,40) scale(7)" fill="#f6cc40"/>
<rect x="38" y="20" width="22" height="22" fill="#fff" stroke="#f5b040" stroke-width="3"/><circle cx="45" cy="30" r="1" fill="#5aa0e0"/><circle cx="50" cy="33" r="1" fill="#5aa0e0"/><circle cx="54" cy="29" r="1" fill="#5aa0e0"/>
<ellipse cx="77" cy="33" rx="13" ry="20" fill="#8cc868"/><rect x="76" y="50" width="2" height="8" fill="#6a9a40"/><polygon points="90,10 98,14 92,20" fill="#e87aa0"/>
<ellipse cx="120" cy="22" rx="18" ry="7" fill="#d8eefa" stroke="#60b0e0" stroke-width="1.5"/><circle cx="159" cy="18" r="8" fill="#f5b030"/>
<polygon points="96,53 104,38 112,53" fill="#f5c84a"/><polygon points="116,53 124,38 132,53" fill="#f5c84a"/><polygon points="136,53 144,38 152,53" fill="#f5c84a"/><polygon points="101,50 104,45 107,50" fill="#1a3a80"/><polygon points="121,50 124,45 127,50" fill="#1a3a80"/><polygon points="141,50 144,45 147,50" fill="#1a3a80"/>
<path d="M170 2 l10 24 M175 6 l-4 2 M178 12 l-4 2 M186 2 l10 22 M190 8 l-4 2" stroke="#6ab060" stroke-width="1.5" fill="none"/>
<ellipse cx="191" cy="44" rx="25" ry="12" fill="#3ea060"/><ellipse cx="191" cy="43" rx="18" ry="8" fill="#a8dce0"/><circle cx="214" cy="20" r="6" fill="#f8e460"/>
<path d="M222 4 l2 4 M228 2 l2 4 M234 5 l2 4 M240 2 l2 4 M246 5 l2 4 M252 2 l2 4 M258 5 l2 4 M230 10 l2 4 M244 10 l2 4" stroke="#a8d4ee" stroke-width="1.2"/>
<circle cx="236" cy="40" r="8" fill="#4a90e0"/><circle cx="252" cy="33" r="5" fill="#f090c0"/><circle cx="267" cy="32" r="5" fill="#f5a830"/><path d="M252 38 v16 M267 37 v17" stroke="#6ab060" stroke-width="1.2"/>
<path d="M200 12 l6 -4 l4 6" stroke="#3aa060" stroke-width="1.5" fill="none"/><rect x="272" y="36" width="28" height="12" rx="4" fill="#2a3a80"/><circle cx="280" cy="42" r="2" fill="#fff"/><circle cx="290" cy="42" r="2" fill="#fff"/>
<path d="M296 6 l8 18 M300 8 l-4 2 M310 4 l6 16" stroke="#5aa0e0" stroke-width="1.5" fill="none"/><circle cx="318" cy="28" r="4" fill="#f090c0"/><circle cx="326" cy="36" r="3" fill="#f5a830"/>
<ellipse cx="321" cy="46" rx="7" ry="4" fill="#f0a070"/><rect x="319" y="46" width="4" height="10" fill="#f6d0a0"/><ellipse cx="345" cy="48" rx="6" ry="3.5" fill="#b0b0b8"/><rect x="343" y="48" width="3" height="8" fill="#d8d8e0"/>
<path d="M352 18 q8 -8 16 0 q-8 4 -16 0z" fill="#4a90e0"/><circle cx="372" cy="28" r="2" fill="#f5a030"/><path d="M378 4 q10 0 10 10 q0 8 -8 8" stroke="#2a56b8" stroke-width="1.5" fill="none"/>
<circle cx="398" cy="44" r="12" fill="#f08aa0"/><path d="M398 32 l2 -5" stroke="#3a9e50" stroke-width="1.5"/>
<path d="M425 8 q6 -6 10 2 M430 4 q4 8 -2 14" stroke="#40b0c8" stroke-width="2" fill="none"/>
<polygon points="428,58 456,26 486,58" fill="#f5c84a"/><polygon points="440,58 456,38 470,58" fill="#f59a30"/><ellipse cx="440" cy="44" rx="10" ry="12" fill="#40b4c8"/>
<polygon points="500,58 508,34 516,58" fill="#3a9e50"/><polygon points="498,48 508,28 518,48" fill="#3a9e50"/><ellipse cx="548" cy="46" rx="17" ry="10" fill="#f8e070"/><circle cx="542" cy="44" r="1.5" fill="#d0a020"/><circle cx="552" cy="48" r="1.5" fill="#d0a020"/>
<circle cx="530" cy="16" r="3" fill="#f5a030"/></pattern>

<pattern id="p40" patternUnits="userSpaceOnUse" x="204" y="1365" width="150" height="57"><rect width="150" height="57" fill="#1b4d9f"/>
<g stroke-width="1.3" fill="none"><path d="M6 50 q4 -20 14 -30 M10 40 l-5 -3 M13 33 l-5 -3" stroke="#5ab070"/><path d="M70 10 l10 20 M73 15 l5 -3 M76 21 l5 -3" stroke="#b8a0e0"/><path d="M110 55 q-2 -16 8 -26 M113 45 l6 -2" stroke="#4aa870"/><path d="M40 8 l-6 12 M36 14 l-4 -2" stroke="#8ad0f0"/><path d="M130 30 l10 10 M134 34 l-2 4 M138 38 l-2 4" stroke="#5ab070"/><path d="M88 44 q8 -6 14 2" stroke="#8ad0f0"/><path d="M48 30 l8 -8 M50 26 l-3 -2 M53 23 l-3 -2" stroke="#6ab878"/><path d="M120 6 l-4 14 M118 10 l4 -1 M117 15 l4 -1" stroke="#c090e0"/></g>
<circle cx="30" cy="22" r="5" fill="#f5a040"/><circle cx="30" cy="22" r="2" fill="#f8e080"/><circle cx="20" cy="50" r="4" fill="#f5a040"/><circle cx="60" cy="40" r="4" fill="#e86a9a"/><use href="#st" transform="translate(100,15) scale(7)" fill="#30b8d0"/><circle cx="126" cy="48" r="4.5" fill="#f5a040"/><circle cx="142" cy="14" r="3.5" fill="#e86a9a"/><circle cx="52" cy="12" r="2.5" fill="#e86a9a"/><circle cx="80" cy="50" r="3" fill="#30b8d0"/><circle cx="8" cy="10" r="3" fill="#2ab8d8"/><circle cx="92" cy="30" r="3.5" fill="#f08a60"/><circle cx="70" cy="28" r="2" fill="#f5c040"/><circle cx="40" cy="46" r="2.5" fill="#e86a9a"/></pattern>
</defs>

<rect width="1445" height="1445" fill="#fff"/>

<g filter="url(#sh)">
<rect x="204" y="24" width="1129" height="9" fill="url(#p1)"/>
<rect x="204" y="43" width="1129" height="9" fill="url(#p2)"/>
<rect x="204" y="61" width="1129" height="10" fill="url(#p3)"/>
<rect x="204" y="81" width="1129" height="8" fill="url(#p4)"/>
<rect x="204" y="98" width="1129" height="10" fill="#f6a41b"/>
<rect x="204" y="115" width="1129" height="8" fill="url(#p6)"/>
<rect x="204" y="132" width="1129" height="20" fill="url(#p7)"/>
<rect x="204" y="161" width="1129" height="18" fill="url(#p8)"/>
<rect x="204" y="187" width="1129" height="19" fill="url(#p9)"/>
<rect x="204" y="218" width="1129" height="20" fill="url(#p10)"/>
<rect x="204" y="248" width="1129" height="19" fill="url(#p11)"/>
<rect x="204" y="277" width="1129" height="20" fill="url(#p12)"/>
<rect x="204" y="307" width="1129" height="20" fill="url(#p13)"/>
<g>
<rect x="204" y="334" width="1129" height="4" fill="#fbd64c"/>
<rect x="204" y="338" width="1129" height="3" fill="#f08aaa"/>
<rect x="204" y="341" width="1129" height="3" fill="#9ad6c0"/>
<rect x="204" y="344" width="1129" height="4" fill="#22aab8"/>
<rect x="204" y="348" width="1129" height="5" fill="#1a7cc4"/>
</g>
<rect x="204" y="362" width="1129" height="16" fill="url(#p15)"/>
<rect x="204" y="389" width="1129" height="19" fill="url(#p16)"/>
<rect x="204" y="417" width="1129" height="19" fill="url(#g17)"/>
<rect x="204" y="446" width="1129" height="18" fill="url(#p18)"/>
<rect x="204" y="475" width="1129" height="19" fill="url(#p19)"/>
<rect x="204" y="503" width="1129" height="19" fill="url(#p20)"/>
<rect x="204" y="528" width="1129" height="20" fill="url(#p21)"/>
<rect x="204" y="555" width="1129" height="28" fill="url(#p22)"/>
<rect x="204" y="595" width="1129" height="29" fill="url(#p23)"/>
<rect x="204" y="637" width="1129" height="30" fill="url(#p24)"/>
<rect x="204" y="683" width="1129" height="29" fill="url(#p25)"/>
<rect x="204" y="725" width="1129" height="29" fill="url(#p26)"/>
<rect x="204" y="767" width="1129" height="28" fill="url(#p27)"/>
<rect x="204" y="807" width="1129" height="29" fill="url(#p28)"/>
<rect x="204" y="843" width="1129" height="26" fill="url(#p29)"/>
<rect x="204" y="880" width="1129" height="30" fill="url(#p30)"/>
<rect x="204" y="925" width="1129" height="25" fill="url(#p31)"/>
<rect x="204" y="962" width="1129" height="30" fill="url(#p32)"/>
<rect x="204" y="1005" width="1129" height="28" fill="url(#p33)"/>
<rect x="204" y="1042" width="1129" height="28" fill="url(#p34)"/>
<rect x="204" y="1078" width="1129" height="40" fill="url(#p35)"/>
<rect x="204" y="1127" width="1129" height="40" fill="url(#p36)"/>
<rect x="204" y="1176" width="1129" height="47" fill="url(#p37)"/>
<rect x="204" y="1233" width="1129" height="50" fill="url(#p38)"/>
<rect x="204" y="1297" width="1129" height="58" fill="url(#p39)"/>
<rect x="204" y="1365" width="1129" height="57" fill="url(#p40)"/>
</g>

<g stroke="#666" stroke-width="1.4" fill="none">
<path d="M193 27 Q185 27 185 35 L185 112 Q185 120 193 120"/>
<path d="M193 146 Q185 146 185 154 L185 529 Q185 537 193 537"/>
<path d="M193 571 Q185 571 185 579 L185 1044 Q185 1052 193 1052"/>
<path d="M193 1093 Q185 1093 185 1101 L185 1142 Q185 1150 193 1150"/>
<path d="M193 1197 Q185 1197 185 1205 L185 1257 Q185 1265 193 1265"/>
<path d="M193 1326 Q185 1326 185 1334 L185 1387 Q185 1395 193 1395"/>
</g>

<g font-family="Liberation Sans, sans-serif" font-size="23" fill="#3e3e3e" text-anchor="end" letter-spacing="-0.7">
<text x="179" y="81">0.2in/5mm</text>
<text x="179" y="348">0.39in/10mm</text>
<text x="179" y="820">0.59in/15mm</text>
<text x="179" y="1123">0.79in/20mm</text>
<text x="179" y="1238">0.98in/25mm</text>
<text x="179" y="1369">1.18in/30mm</text>
</g>
</svg>
</body></html>
